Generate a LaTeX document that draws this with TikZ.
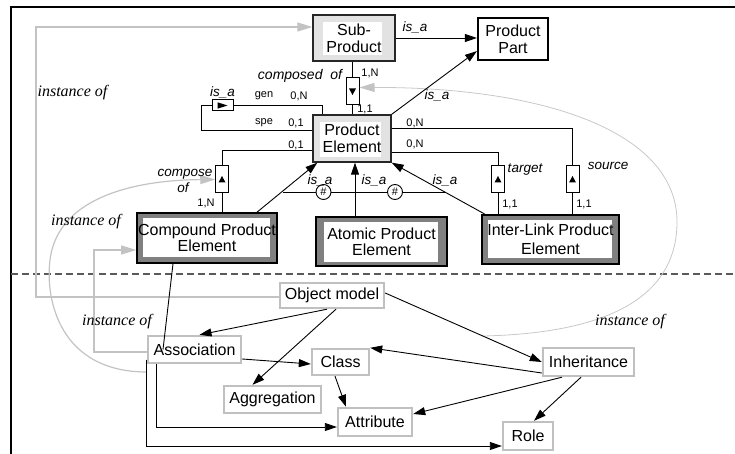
\documentclass[tikz,border=0pt]{standalone}
\usepackage{fontspec}
\setmainfont{Liberation Sans}
\newfontfamily\tmsfont{Liberation Serif}
\usetikzlibrary{arrows.meta,calc}
\newcommand\setfsz[2]{\fontsize{#1}{#2}\selectfont}
\definecolor{lightfill}{RGB}{226,226,226}
\definecolor{bandgray}{RGB}{128,128,128}
\definecolor{lowborder}{RGB}{192,192,192}
\definecolor{instgray}{RGB}{195,195,195}
\definecolor{curvegray}{RGB}{200,200,200}
\definecolor{dashgray}{RGB}{90,90,90}
\tikzset{
  inset/.style n args={4}{path picture={\fill[white] ([xshift=#1,yshift=-#3]path picture bounding box.north west) rectangle ([xshift=-#2,yshift=#4]path picture bounding box.south east);}},
  upbox/.style={draw=black!85, line width=1.3pt, fill=lightfill, inner sep=0pt, align=center, font=\setfsz{16}{17}},
  elembox/.style={draw=black, line width=1.6pt, fill=bandgray, inner sep=0pt, align=center, font=\setfsz{16}{16}},
  lowbox/.style={draw=lowborder, line width=2.4pt, fill=white, inner sep=0pt, font=\setfsz{16}{17}},
  relbox/.style={draw=black, line width=1pt, fill=white, inner sep=0pt, minimum width=12.5pt, minimum height=27pt},
  uptri/.style={path picture={\fill[black] (path picture bounding box.center) ++(-3.5pt,-3pt) -- ++(7pt,0pt) -- ++(-3.5pt,6.5pt) -- cycle;}},
  downtri/.style={path picture={\fill[black] (path picture bounding box.center) ++(-3.5pt,3pt) -- ++(7pt,0pt) -- ++(-3.5pt,-6.5pt) -- cycle;}},
  righttri/.style={path picture={\fill[black] (path picture bounding box.center) ++(-5pt,3.2pt) -- ++(0pt,-6.4pt) -- ++(10pt,3.2pt) -- cycle;}},
  small/.style={font=\setfsz{11}{12}, inner sep=0pt},
  ital/.style={font=\setfsz{13.5}{14}\itshape, inner sep=0pt},
  instlbl/.style={font=\setfsz{16}{17}\tmsfont\itshape, inner sep=0pt},
  conn/.style={line width=0.9pt, black},
  arr/.style={conn, -{Triangle[length=12pt,width=8pt]}},
  inst/.style={draw=instgray, line width=1.2pt, -{Triangle[length=15pt,width=9pt,color=instgray]}},
  hashc/.style={circle, draw, line width=0.9pt, fill=white, minimum size=15pt, inner sep=0pt, font=\setfsz{11}{11}},
}
\begin{document}
\begin{tikzpicture}[x=1pt,y=-1pt]
\useasboundingbox (0,0) rectangle (735,454);
% frame
\draw[line width=2pt] (11,454) -- (11,7) -- (735,7);
\draw[dashgray, line width=1.3pt, dash pattern=on 7pt off 4pt] (11,274) -- (735,274);

% gray instance-of connectors (background)
\coordinate (gA) at (36,27);
\coordinate (gB) at (94,250);
\coordinate (gC) at (147,372);
\coordinate (gD) at (483,336);

% upper nodes
\node[upbox, minimum width=82pt, minimum height=46pt, inset={10pt}{13pt}{7pt}{6pt}] (sub) at (354,38) {Sub-\\Product};
\node[draw, line width=2.2pt, fill=white, inner sep=0pt, minimum width=70pt, minimum height=42pt, align=center, font=\setfsz{16}{17}] (part) at (513,39) {Product\\Part};
\node[upbox, minimum width=78pt, minimum height=47pt, inset={7pt}{10pt}{7pt}{5pt}] (pe) at (352,138.5) {Product\\Element};
\node[elembox, minimum width=140pt, minimum height=50pt, inset={6pt}{7pt}{5pt}{6pt}] (comp) at (207,238) {Compound Product\\Element};
\node[elembox, minimum width=131pt, minimum height=49pt, inset={8pt}{9pt}{5pt}{4pt}] (atom) at (381.5,241.5) {Atomic Product\\Element};
\node[elembox, minimum width=137pt, minimum height=49pt, inset={6pt}{7pt}{5pt}{6pt}, font=\setfsz{16}{19}] (inter) at (550.5,239.5) {Inter-Link Product\\Element};

% relationship boxes
\node[relbox, minimum width=13pt, downtri] (rcomp) at (352.5,91.5) {};
\node[relbox, minimum width=21pt, minimum height=11pt, righttri] (risa) at (222.5,105.5) {};
\node[relbox, uptri] (rcmp) at (222,179.5) {};
\node[relbox, uptri] (rtarget) at (498,179.5) {};
\node[relbox, minimum width=13pt, uptri] (rsource) at (572.5,179.5) {};

% lower nodes
\node[lowbox, minimum width=104pt, minimum height=25pt] (om) at (332,295.5) {Object model};
\node[lowbox, minimum width=93pt, minimum height=27pt] (assoc) at (194.5,349.5) {Association};
\node[lowbox, minimum width=57pt, minimum height=26pt] (class) at (340.5,362) {Class};
\node[lowbox, minimum width=97pt, minimum height=27pt] (aggr) at (272.5,399.5) {Aggregation};
\node[lowbox, minimum width=74pt, minimum height=28pt] (attr) at (375,422) {Attribute};
\node[lowbox, minimum width=91pt, minimum height=28pt] (inh) at (588.5,362) {Inheritance};
\node[lowbox, minimum width=50pt, minimum height=28pt] (role) at (528,436) {Role};

% gray instance-of paths
\draw[inst] ([yshift=-1.5pt]om.west) -| (gA) |- ([yshift=11pt]sub.west);
\draw[inst] ([yshift=-2.5pt]assoc.west) -| (gB) |- ([yshift=-12pt]comp.west);
\draw[inst] (gC) .. controls (60,372) and (45,300) .. (50,260) .. controls (58,195) and (140,180) .. (rcmp.west);
\draw[inst, draw=curvegray, line width=0.8pt] (gD) .. controls (620,333) and (677,290) .. (677,222) .. controls (677,130) and (540,87) .. ([yshift=4pt]rcomp.east);

% ER connectors
\draw[conn] (rcomp.north) -- (rcomp.north |- sub.south);
\draw[conn] (rcomp.south) -- (rcomp.south |- pe.north);
\draw[conn] (risa.east) -| ([xshift=-30pt]pe.north);
\draw[conn] (risa.west) -- ++(-10,0) |- ([yshift=8.5pt]pe.west);
\draw[conn] ([yshift=-11.5pt]pe.west) -| (rcmp.north);
\draw[conn] (rcmp.south) -- (rcmp.south |- comp.north);
\draw[conn] ([yshift=10.5pt]pe.east) -| (rsource.north);
\draw[conn] (rsource.south) -- (rsource.south |- inter.north);
\draw[conn] ([yshift=-13.5pt]pe.east) -| (rtarget.north);
\draw[conn] (rtarget.south) -- (rtarget.south |- inter.north);

\draw[arr] (sub.east) -- (sub.east -| part.west);
\draw[arr] (pe.north east) -- ([yshift=10pt]part.south west);
\draw[arr] ([xshift=50pt]comp.north) -- ([xshift=5pt]pe.south west);
\draw[arr] ([xshift=-26.5pt]atom.north) -- ([xshift=3pt]pe.south);
\draw[arr] ([xshift=-65.5pt]inter.north) -- (pe.south east);

\coordinate (hL) at (283,192);
\coordinate (hR) at (446,192);
\node[hashc] (hc1) at (323.5,192) {\#};
\node[hashc] (hc2) at (395,192) {\#};
\draw[conn] (hL) -- (hc1) (hc1) -- (hc2) (hc2) -- (hR);

% lower connectors
\draw[arr] ([xshift=-5pt]om.south) -- ([xshift=5pt]assoc.north);
\draw[arr] ([xshift=4pt]om.south) -- ([xshift=-20pt]aggr.north);
\draw[arr] ([yshift=2.5pt]om.east) -- (inh.west);
\draw[arr] ([yshift=-9.5pt]assoc.east) -- ([yshift=-2pt]class.west);
\draw[arr] ([yshift=-11pt]inh.west) -- (class.north east);
\draw[arr] ([xshift=-5.5pt]class.south) -- ([xshift=-29pt]attr.north);
\draw[arr] ([xshift=-26.5pt]inh.south) -- ([yshift=8pt]attr.east);
\draw[arr] ([xshift=-7.5pt]inh.south) -- ([xshift=6pt]role.north);
\draw[arr] ([xshift=-38.5pt]assoc.south) |- ([yshift=-5pt]attr.west);
\draw[arr] ([yshift=-10pt]assoc.west) |- ([yshift=-10pt]role.west);
\draw[conn] ([xshift=-34pt]comp.south) -- ([xshift=-31.5pt]assoc.center);

% labels
\node[ital] (t1) at (415,27) {is\_a};
\node[ital] (t2) at (437,95) {is\_a};
\node[ital] (t3) at (222.5,92) {is\_a};
\node[ital, font=\setfsz{14}{14}\itshape] (t4) at (300,76) {composed\ \ of};
\node[small] (t5) at (370,73) {1,N};
\node[small] (t6) at (365,109) {1,1};
\node[small] (t7) at (264,96) {gen};
\node[small] (t8) at (299,96) {0,N};
\node[small] (t9) at (264,123) {spe};
\node[small] (t10) at (296,123) {0,1};
\node[small] (t11) at (296,145) {0,1};
\node[ital] (t12) at (185,174) {compose};
\node[ital] (t13) at (183,188) {of};
\node[small] (t14) at (206,203) {1,N};
\node[small] (t15) at (415,123) {0,N};
\node[small] (t16) at (415,144) {0,N};
\node[ital] (t17) at (525,170) {target};
\node[ital] (t18) at (608,166) {source};
\node[small] (t19) at (510,204) {1,1};
\node[small] (t20) at (584,204) {1,1};
\node[ital] (t21) at (320,180) {is\_a};
\node[ital] (t22) at (374,180) {is\_a};
\node[ital] (t23) at (445,180) {is\_a};
\node[instlbl] (i1) at (72.5,93) {instance of};
\node[instlbl] (i2) at (86,222) {instance of};
\node[instlbl] (i3) at (117,322) {instance of};
\node[instlbl] (i4) at (630,322) {instance of};
\end{tikzpicture}
\end{document}
